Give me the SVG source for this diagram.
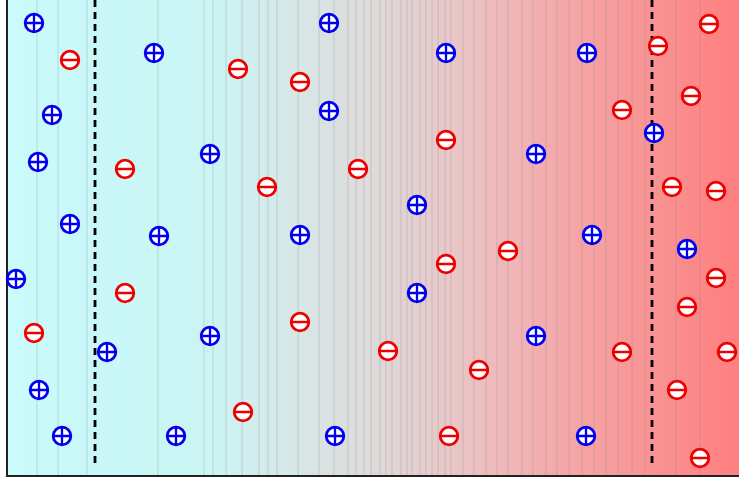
<svg xmlns="http://www.w3.org/2000/svg" width="739" height="482" viewBox="0 0 739 482">
<defs>
<linearGradient id="bg" x1="0" y1="0" x2="739" y2="0" gradientUnits="userSpaceOnUse">
<stop offset="0" stop-color="#cdfcfc"/>
<stop offset="0.05" stop-color="#c9f9f9"/>
<stop offset="0.28" stop-color="#cbf5f5"/>
<stop offset="0.38" stop-color="#d6e9e9"/>
<stop offset="0.5" stop-color="#dedbdb"/>
<stop offset="0.6" stop-color="#e8c9ca"/>
<stop offset="0.74" stop-color="#f3acad"/>
<stop offset="0.88" stop-color="#f99393"/>
<stop offset="1" stop-color="#ff7f80"/>
</linearGradient>
<g id="pos"><circle r="8.8" fill="#fff" stroke="#0000ee" stroke-width="2.8"/><path d="M-8.8 0H8.8M0 -8.8V8.8" stroke="#0000ee" stroke-width="2.3"/></g>
<g id="neg"><circle r="8.8" fill="#fff" stroke="#ee0000" stroke-width="2.8"/><path d="M-8.8 0H8.8" stroke="#ee0000" stroke-width="2.5"/></g>
</defs>
<style>
.band{stroke:#888;stroke-opacity:0.3;stroke-width:1}
.dash{stroke:#000;stroke-width:2.8;stroke-dasharray:7,5;fill:none}
.axis{stroke:#222;stroke-width:2;fill:none}
</style>
<rect x="0" y="0" width="739" height="482" fill="#fff"/>
<rect x="7" y="0" width="732" height="476" fill="url(#bg)"/>
<g id="bands">
<path class="band" d="M37 0V476M58 0V476M87 0V476M158 0V476M204 0V476M213 0V476M226 0V476M242 0V476M259 0V476M268 0V476M277 0V476M298 0V476M319 0V476M334 0V476M348 0V476M356 0V476M364 0V476M371 0V476M380 0V476M386 0V476M392 0V476M401 0V476M407 0V476M412 0V476M420 0V476M426 0V476M432 0V476M438 0V476M445 0V476M451 0V476M463 0V476M474 0V476M486 0V476M497 0V476M508 0V476M522 0V476M533 0V476M546 0V476M557 0V476M569 0V476M582 0V476M594 0V476M606 0V476M618 0V476M632 0V476M645 0V476M676 0V476M700 0V476"/>
</g>
<g id="connectors">
<path class="axis" d="M7 0V476H739"/>
<path class="dash" d="M95 0V468"/>
<path class="dash" d="M652 0V468"/>
</g>
<g id="charges">
<use href="#pos" x="34" y="23"/>
<use href="#pos" x="154" y="53"/>
<use href="#pos" x="329" y="23"/>
<use href="#pos" x="446" y="53"/>
<use href="#pos" x="587" y="53"/>
<use href="#pos" x="52" y="115"/>
<use href="#pos" x="329" y="111"/>
<use href="#pos" x="38" y="162"/>
<use href="#pos" x="210" y="154"/>
<use href="#pos" x="536" y="154"/>
<use href="#pos" x="654" y="133"/>
<use href="#pos" x="417" y="205"/>
<use href="#pos" x="70" y="224"/>
<use href="#pos" x="159" y="236"/>
<use href="#pos" x="300" y="235"/>
<use href="#pos" x="592" y="235"/>
<use href="#pos" x="687" y="249"/>
<use href="#pos" x="16" y="279"/>
<use href="#pos" x="417" y="293"/>
<use href="#pos" x="107" y="352"/>
<use href="#pos" x="210" y="336"/>
<use href="#pos" x="536" y="336"/>
<use href="#pos" x="39" y="390"/>
<use href="#pos" x="62" y="436"/>
<use href="#pos" x="176" y="436"/>
<use href="#pos" x="335" y="436"/>
<use href="#pos" x="586" y="436"/>
<use href="#neg" x="70" y="60"/>
<use href="#neg" x="238" y="69"/>
<use href="#neg" x="300" y="82"/>
<use href="#neg" x="709" y="24"/>
<use href="#neg" x="658" y="46"/>
<use href="#neg" x="691" y="96"/>
<use href="#neg" x="622" y="110"/>
<use href="#neg" x="446" y="140"/>
<use href="#neg" x="125" y="169"/>
<use href="#neg" x="267" y="187"/>
<use href="#neg" x="358" y="169"/>
<use href="#neg" x="672" y="187"/>
<use href="#neg" x="716" y="191"/>
<use href="#neg" x="508" y="251"/>
<use href="#neg" x="446" y="264"/>
<use href="#neg" x="716" y="278"/>
<use href="#neg" x="125" y="293"/>
<use href="#neg" x="687" y="307"/>
<use href="#neg" x="300" y="322"/>
<use href="#neg" x="34" y="333"/>
<use href="#neg" x="388" y="351"/>
<use href="#neg" x="622" y="352"/>
<use href="#neg" x="727" y="352"/>
<use href="#neg" x="479" y="370"/>
<use href="#neg" x="677" y="390"/>
<use href="#neg" x="243" y="412"/>
<use href="#neg" x="449" y="436"/>
<use href="#neg" x="700" y="458"/>
</g>
</svg>
